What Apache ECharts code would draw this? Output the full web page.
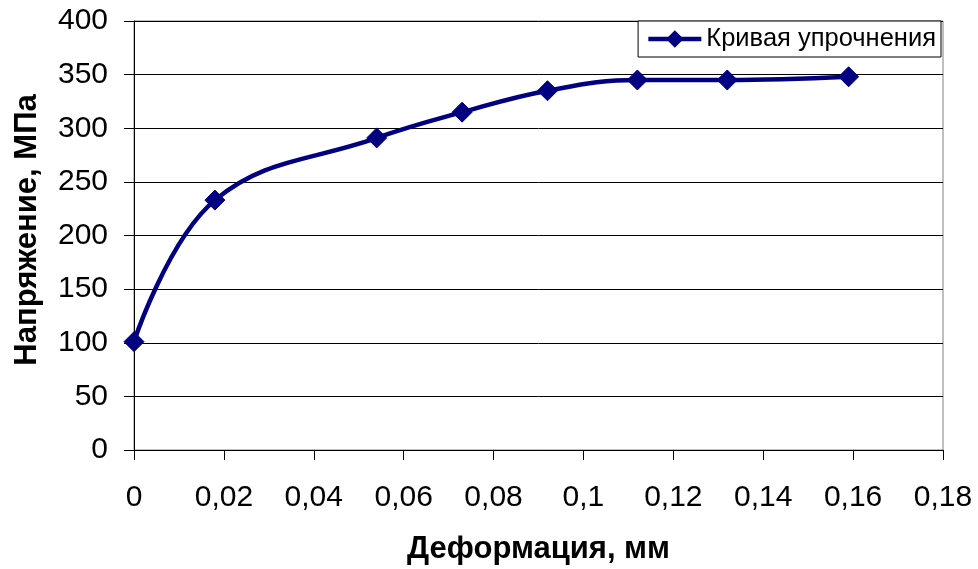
<!DOCTYPE html>
<html>
<head>
<meta charset="utf-8">
<script src="https://cdn.jsdelivr.net/npm/echarts@6/dist/echarts.min.js"></script>
<style>
  html, body { margin: 0; padding: 0; background: #fff; }
  #chart { width: 978px; height: 569px; }
</style>
</head>
<body>
<div id="chart"></div>
<script>
// Hardening curve: strain (mm) vs stress (MPa)
const strain = [0, 0.018, 0.054, 0.073, 0.092, 0.112, 0.132, 0.159];
const stress = [101, 233, 291, 315, 335, 345, 345, 348];
const seriesName = 'Кривая упрочнения';
const xTitle = 'Деформация, мм';
const yTitle = 'Напряжение, МПа';

const font = '"Liberation Sans", Arial, sans-serif';
const navy = '#000080';

const chart = echarts.init(document.getElementById('chart'));
chart.setOption({
  animation: false,
  backgroundColor: '#fff',
  textStyle: { fontFamily: font },
  grid: {
    left: 134, right: 35, top: 21, bottom: 119,
    outerBoundsMode: 'none', containLabel: false,
    show: true, borderColor: '#808080', borderWidth: 1
  },
  legend: {
    right: 37, top: 21,
    padding: [5, 5, 5, 8],
    borderColor: '#000', borderWidth: 1,
    backgroundColor: '#fff',
    itemWidth: 53, itemHeight: 22, itemGap: 4,
    lineStyle: { width: 4.5 },
    textStyle: { fontFamily: font, fontSize: 25.5, color: '#000' },
    data: [{ name: seriesName }]
  },
  xAxis: {
    type: 'value', min: 0, max: 0.18, interval: 0.02,
    name: xTitle, nameLocation: 'middle', nameGap: 84,
    nameTextStyle: { fontFamily: font, fontSize: 31, fontWeight: 'bold', color: '#000' },
    axisLine: { lineStyle: { color: '#000', width: 1 } },
    axisTick: { show: true, length: 10, inside: false, lineStyle: { color: '#000' } },
    axisLabel: {
      fontFamily: font, fontSize: 30, color: '#000', margin: 33,
      formatter: v => String(+v.toFixed(2)).replace('.', ',')
    },
    splitLine: { show: false }
  },
  yAxis: {
    type: 'value', min: 0, max: 400, interval: 50,
    name: yTitle, nameLocation: 'middle', nameGap: 91,
    nameTextStyle: {
      fontFamily: font, fontSize: 31, fontWeight: 'bold', color: '#000',
      padding: [0, 0, 0, 11]
    },
    axisLine: { show: true, lineStyle: { color: '#000', width: 1 } },
    axisTick: { show: true, length: 10, inside: false, lineStyle: { color: '#000' } },
    axisLabel: { fontFamily: font, fontSize: 30, color: '#000', margin: 26 },
    splitLine: { show: true, lineStyle: { color: '#000', width: 1 } }
  },
  series: [{
    name: seriesName,
    type: 'line',
    data: strain.map((x, i) => [x, stress[i]]),
    smooth: 0.4,
    symbol: 'diamond',
    symbolSize: 20,
    lineStyle: { color: navy, width: 4.5 },
    itemStyle: { color: navy, borderColor: navy }
  }]
});
</script>
</body>
</html>
